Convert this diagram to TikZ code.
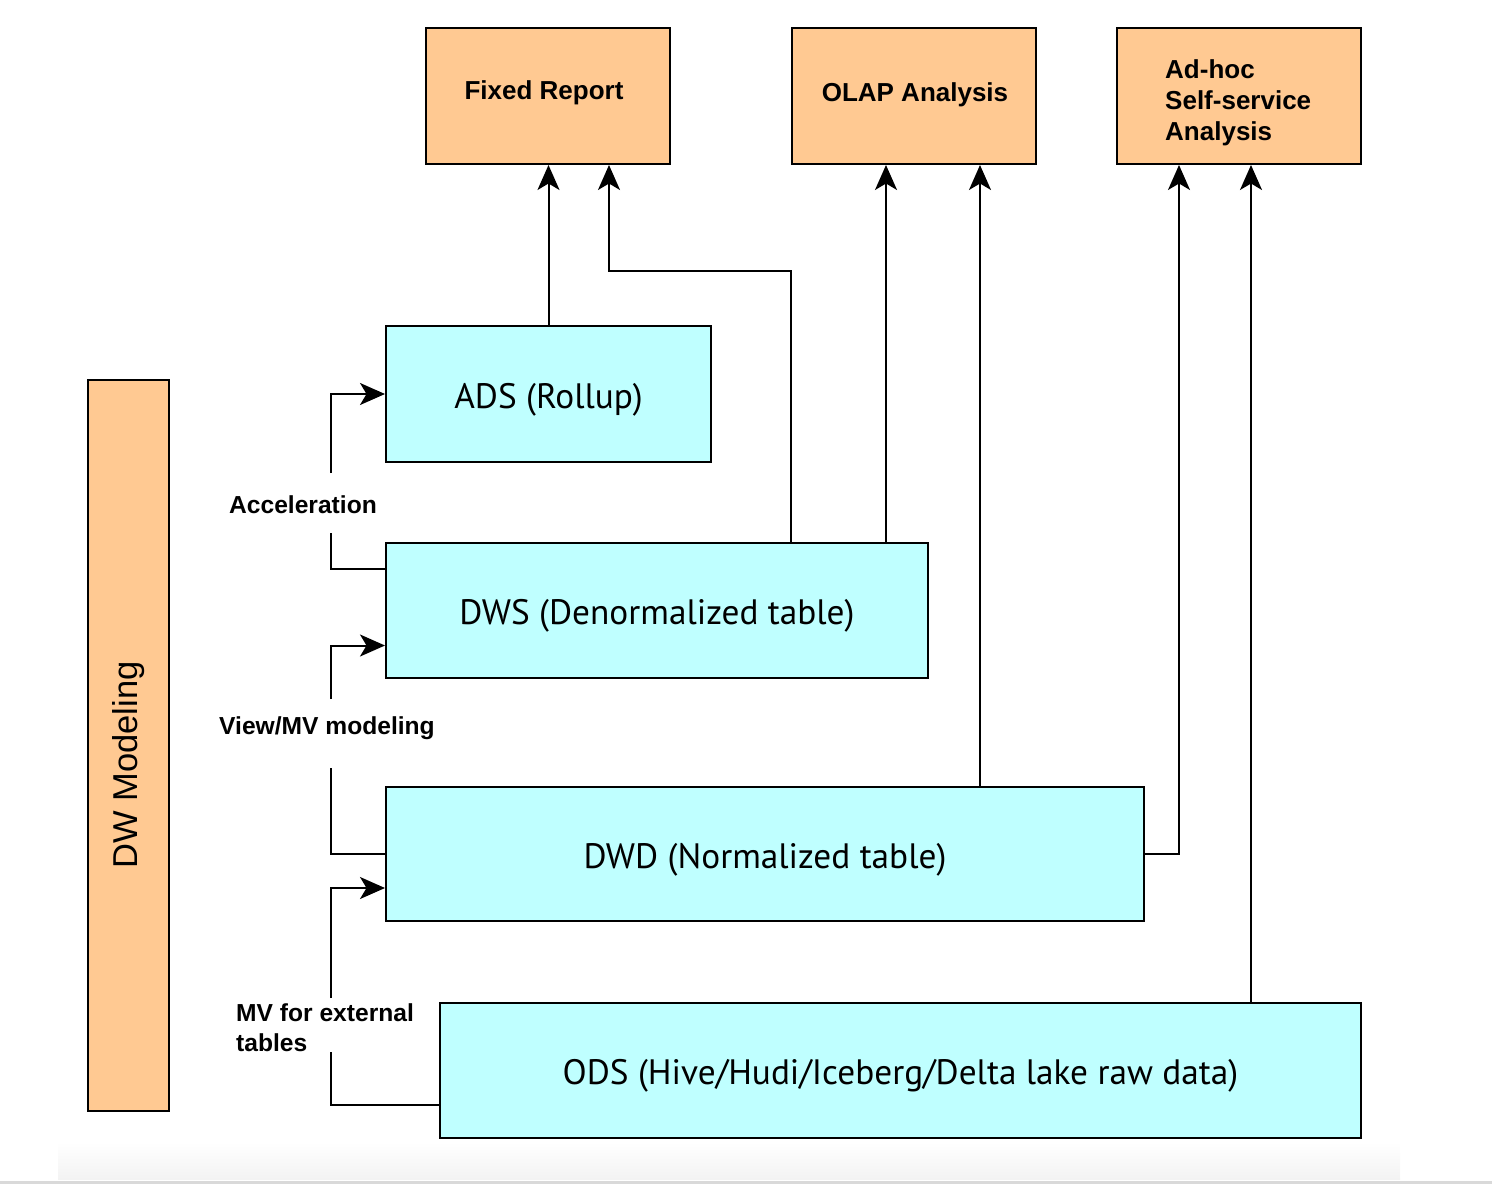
\documentclass[tikz,border=0pt]{standalone}
\usepackage{fontspec}
\setmainfont{Liberation Sans}
\newfontfamily\boxfont{PT Sans}
\usetikzlibrary{arrows.meta,calc}
\definecolor{orangebox}{RGB}{255,201,146}
\definecolor{cyanbox}{RGB}{191,255,255}
\definecolor{footgrey}{RGB}{243,243,243}
\definecolor{footline}{RGB}{217,217,217}
\begin{document}
\begin{tikzpicture}[x=1pt,y=-1pt,
  obox/.style={draw=black,line width=2pt,fill=orangebox,inner sep=0pt},
  cbox/.style={draw=black,line width=2pt,fill=cyanbox,inner sep=0pt,
    text height=30pt,text depth=1.5pt,
    font=\boxfont\fontsize{35.3}{40}\selectfont},
  toplabel/.style={font=\bfseries\fontsize{26}{31}\selectfont,inner sep=0pt},
  sidelabel/.style={font=\bfseries\fontsize{24.6}{30}\selectfont,inner sep=0pt},
  conn/.style={line width=2pt},
  arr/.style={line width=2pt,-{Stealth[length=25pt,width=22pt,inset=6.5pt]}}]
\useasboundingbox (0,0) rectangle (1492,1184);
% footer
\shade[top color=white,bottom color=footgrey] (58,1142) rectangle (1400,1179);
\fill[footline] (0,1181) rectangle (1492,1184);
% top boxes
\node[obox,minimum width=244pt,minimum height=136pt] (fr) at (548,96) {};
\node[toplabel] (frt) at ([xshift=-4pt,yshift=3pt]fr.center) {Fixed Report};
\node[obox,minimum width=244pt,minimum height=136pt] (olap) at (914,96) {};
\node[toplabel] (olapt) at ([xshift=1pt,yshift=1pt]olap.center) {OLAP Analysis};
\node[obox,minimum width=244pt,minimum height=136pt] (adhoc) at (1239,96) {};
\node[toplabel,align=left,anchor=west] (adhoct) at (1165,103) {Ad-hoc\\Self-service\\Analysis};
% DW modeling
\node[obox,minimum width=81pt,minimum height=731pt] (dw) at (128.5,745.5) {};
\node[rotate=90,font=\fontsize{34.5}{40}\selectfont] (dwt) at (129,765) {DW Modeling};
% layer boxes
\node[cbox,minimum width=325pt,minimum height=136pt] (ads) at (548.5,394) {ADS (Rollup)};
\node[cbox,minimum width=542pt,minimum height=135pt] (dws) at (657,610.5) {DWS (Denormalized table)};
\node[cbox,minimum width=758pt,minimum height=134pt] (dwd) at (765,854) {DWD (Normalized table)};
\node[cbox,minimum width=921pt,minimum height=135pt] (ods) at (900.5,1070.5) {ODS (Hive/Hudi/Iceberg/Delta lake raw data)};
% side labels
\node[sidelabel] (acc) at (303,505) {Acceleration};
\node[sidelabel] (view) at (327,728) {View/MV modeling};
\node[sidelabel,align=left,anchor=west] (mv) at (236,1028) {MV for external\\tables};
% gap coordinates
\coordinate (g1a) at (331,533);
\coordinate (g1b) at (331,473);
\coordinate (g2a) at (331,768);
\coordinate (g2b) at (331,699);
\coordinate (g3a) at (331,1052);
\coordinate (g3b) at (331,998);
% left connectors
\draw[conn] ([yshift=-27pt]dws.north west) -| (g1a);
\draw[arr] (g1b) |- (ads.west);
\draw[conn] (dwd.west) -| (g2a);
\draw[arr] (g2b) |- ([yshift=-35pt]dws.west);
\draw[conn] ([yshift=-34.5pt]ods.west) -| (g3a);
\draw[arr] (g3b) |- ([yshift=-34pt]dwd.west);
% upward connectors
\coordinate (d0) at ([xshift=406pt]dws.north west);
\coordinate (k0) at (609,271);
\coordinate (d1) at ([xshift=501pt]dws.north west);
\coordinate (d2) at ([xshift=595pt]dwd.north west);
\coordinate (h1) at ([xshift=63pt]adhoc.south west);
\coordinate (h2) at ([xshift=135pt]adhoc.south west);
\draw[arr] (ads.north) -- (ads.north |- fr.south);
\draw[arr] (d0) |- (k0) -- (k0 |- fr.south);
\draw[arr] (d1) -- (d1 |- olap.south);
\draw[arr] (d2) -- (d2 |- olap.south);
\draw[arr] (dwd.east) -| (h1);
\draw[arr] (h2 |- ods.north) -- (h2);
\end{tikzpicture}
\end{document}
